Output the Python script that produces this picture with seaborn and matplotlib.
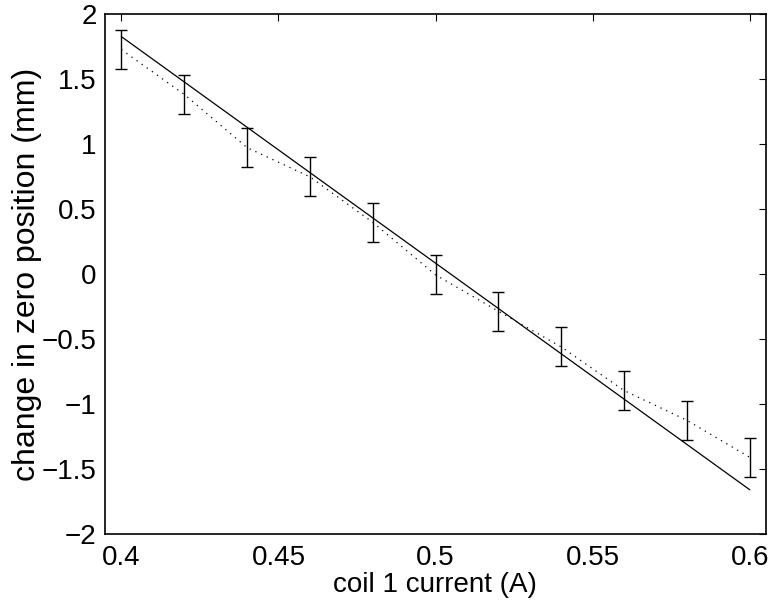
import matplotlib
matplotlib.use("Agg")
import numpy as np
import pandas as pd
import seaborn as sns
import matplotlib.pyplot as plt

# measured zero position shift vs coil current
current = [0.40, 0.42, 0.44, 0.46, 0.48, 0.50, 0.52, 0.54, 0.56, 0.58, 0.60]
zero_shift = [1.73, 1.385, 0.975, 0.75, 0.40, -0.005, -0.285, -0.56, -0.896, -1.125, -1.41]
shift_err = [0.15, 0.15, 0.15, 0.15, 0.15, 0.15, 0.15, 0.15, 0.15, 0.15, 0.15]

# straight-line model
fit_current = [0.40, 0.60]
fit_shift = [1.83, -1.66]

xticks = [0.4, 0.45, 0.5, 0.55, 0.6]
xticklabels = ["0.4", "0.45", "0.5", "0.55", "0.6"]
yticks = [-2, -1.5, -1, -0.5, 0, 0.5, 1, 1.5, 2]
yticklabels = ["\u22122", "\u22121.5", "\u22121", "\u22120.5", "0", "0.5", "1", "1.5", "2"]

sns.set_style("white")
plt.rcParams["font.family"] = ["Liberation Sans", "DejaVu Sans"]
plt.rcParams["text.color"] = "k"
plt.rcParams["axes.labelcolor"] = "k"

df = pd.DataFrame({"current": current, "shift": zero_shift, "err": shift_err})
df_fit = pd.DataFrame({"current": fit_current, "shift": fit_shift})

fig = plt.figure(figsize=(7.72, 6.04), dpi=100)
ax = fig.add_axes([0.136, 0.116, 0.856, 0.860])

sns.lineplot(data=df, x="current", y="shift", color="k", linestyle=(0, (1, 4)),
             linewidth=0.9, ax=ax)
sns.lineplot(data=df_fit, x="current", y="shift", color="k", linewidth=0.9, ax=ax)
ax.errorbar(df["current"], df["shift"], yerr=df["err"], fmt="none", ecolor="k",
            elinewidth=1.0, capsize=4, capthick=1.0)

ax.set_xlim(0.3948, 0.6051)
ax.set_ylim(-2, 2)
ax.set_xticks(xticks)
ax.set_xticklabels(xticklabels)
ax.set_yticks(yticks)
ax.set_yticklabels(yticklabels)
ax.tick_params(direction="in", length=5, width=0.8, top=True, right=True,
               labelsize=20, colors="k")
ax.tick_params(axis="x", pad=8)
ax.tick_params(axis="y", pad=6)
for s in ax.spines.values():
    s.set_color("k")
    s.set_linewidth(1.2)

ax.set_xlabel("coil 1 current (A)", fontsize=20, labelpad=1, color="k")
ax.set_ylabel("change in zero position (mm)", fontsize=23, labelpad=0, color="k")

fig.savefig("out.png", dpi=100)
